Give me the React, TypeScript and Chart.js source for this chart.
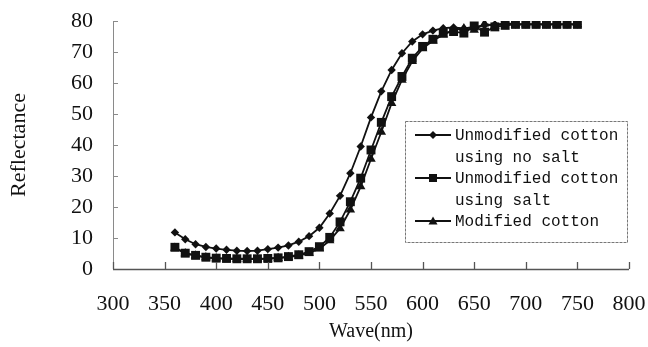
import React, { useEffect, useRef } from "react";
import { Chart, registerables } from "chart.js";

Chart.register(...registerables);

const wavelengths = [360, 370, 380, 390, 400, 410, 420, 430, 440, 450, 460, 470, 480, 490, 500, 510, 520, 530, 540, 550, 560, 570, 580, 590, 600, 610, 620, 630, 640, 650, 660, 670, 680, 690, 700, 710, 720, 730, 740, 750];

const unmodifiedNoSalt = [11.8, 9.6, 8.0, 7.1, 6.6, 6.2, 5.9, 5.8, 5.9, 6.4, 6.9, 7.6, 8.8, 10.6, 13.3, 17.9, 23.6, 30.9, 39.5, 48.9, 57.3, 64.2, 69.6, 73.4, 75.7, 76.9, 77.7, 77.9, 77.6, 78.1, 78.6, 78.9, 79.1, 78.9, 78.9, 78.9, 78.9, 78.9, 78.9, 78.9];

const unmodifiedSalt = [7.0, 5.1, 4.4, 3.8, 3.5, 3.4, 3.3, 3.3, 3.3, 3.4, 3.6, 4.0, 4.6, 5.6, 7.2, 10.2, 15.2, 21.7, 29.3, 38.4, 47.3, 55.6, 62.1, 68.0, 71.8, 74.1, 76.1, 76.6, 76.1, 78.4, 76.4, 78.1, 78.6, 78.9, 78.9, 78.9, 78.9, 78.9, 78.9, 78.9];

const modifiedCotton = [6.8, 5.0, 4.3, 3.7, 3.4, 3.3, 3.2, 3.2, 3.2, 3.3, 3.5, 3.8, 4.3, 5.2, 6.5, 9.2, 13.1, 19.1, 26.6, 35.5, 44.2, 53.5, 61.0, 67.0, 71.1, 73.6, 75.6, 77.1, 77.6, 77.1, 79.1, 78.4, 79.4, 78.9, 78.9, 78.9, 78.9, 78.9, 78.9, 78.9];

const seriesNames = [["Unmodified cotton", "using no salt"], ["Unmodified cotton", "using salt"], ["Modified cotton"]];
const xTitle = "Wave(nm)";
const yTitle = "Reflectance";

const INK = "#111111";
const SERIF = "'Liberation Serif', 'Times New Roman', serif";

const toPoints = (vals: number[]) => wavelengths.map((w, i) => ({ x: w, y: vals[i] }));

const axisPlugin = {
  id: "insideTicks",
  afterDraw(chart: any) {
    const ctx = chart.ctx;
    const xs = chart.scales.x;
    const ys = chart.scales.y;
    const area = chart.chartArea;
    ctx.save();
    ctx.strokeStyle = "#8a8a8a";
    ctx.lineWidth = 1;
    ctx.beginPath();
    ctx.moveTo(area.left + 0.5, area.top);
    ctx.lineTo(area.left + 0.5, area.bottom);
    ys.ticks.forEach((t: any) => {
      const py = Math.round(ys.getPixelForValue(t.value)) + 0.5;
      ctx.moveTo(area.left, py);
      ctx.lineTo(area.left + 5, py);
    });
    ctx.stroke();
    ctx.strokeStyle = "#555555";
    ctx.lineWidth = 1.3;
    ctx.beginPath();
    ctx.moveTo(area.left, area.bottom + 0.5);
    ctx.lineTo(area.right, area.bottom + 0.5);
    xs.ticks.forEach((t: any) => {
      const px = Math.round(xs.getPixelForValue(t.value)) + 0.5;
      ctx.moveTo(px, area.bottom);
      ctx.lineTo(px, area.bottom - 7);
    });
    ctx.stroke();
    ctx.restore();
  },
};

const legendPlugin = {
  id: "customLegend",
  afterDraw(chart: any) {
    const ctx = chart.ctx;
    const left = 405;
    const top = 121;
    const w = 222;
    const h = 121;
    ctx.save();
    ctx.fillStyle = "#ffffff";
    ctx.fillRect(left, top, w, h);
    ctx.strokeStyle = "#777777";
    ctx.lineWidth = 1;
    ctx.setLineDash([3, 1]);
    ctx.strokeRect(left + 0.5, top + 0.5, w, h);
    ctx.setLineDash([]);
    ctx.font = "16px 'Liberation Mono', 'DejaVu Sans Mono', monospace";
    ctx.fillStyle = INK;
    ctx.textBaseline = "middle";
    const lineH = 21.5;
    let row = 0;
    chart.data.datasets.forEach((ds: any, i: number) => {
      const lines = seriesNames[i];
      const cy = top + 14 + row * lineH;
      ctx.strokeStyle = INK;
      ctx.lineWidth = 2;
      ctx.beginPath();
      ctx.moveTo(415, cy);
      ctx.lineTo(451, cy);
      ctx.stroke();
      ctx.beginPath();
      const ps = ds.pointStyle;
      if (ps === "rectRot") {
        ctx.moveTo(433, cy - 4);
        ctx.lineTo(437, cy);
        ctx.lineTo(433, cy + 4);
        ctx.lineTo(429, cy);
      } else if (ps === "rect") {
        ctx.rect(429, cy - 4, 8, 8);
      } else {
        ctx.moveTo(433, cy - 4.5);
        ctx.lineTo(437.5, cy + 3.5);
        ctx.lineTo(428.5, cy + 3.5);
      }
      ctx.closePath();
      ctx.fill();
      lines.forEach((ln: string, k: number) => {
        ctx.fillText(ln, 455, cy + 1 + k * lineH);
      });
      row += lines.length;
    });
    ctx.restore();
  },
};

const noPad = (scale: any) => {
  scale.paddingLeft = 0;
  scale.paddingRight = 0;
  scale.paddingTop = 0;
  scale.paddingBottom = 0;
};

export default function App() {
  const ref = useRef<HTMLCanvasElement | null>(null);
  useEffect(() => {
    document.body.style.margin = "0";
    if (!ref.current) return;
    const mk = (label: string, vals: number[], style: string, r: number) => ({
      label,
      data: toPoints(vals),
      borderColor: INK,
      backgroundColor: INK,
      borderWidth: 1.8,
      pointStyle: style,
      pointRadius: r,
      pointBorderWidth: 0,
      tension: 0,
    });
    const chart = new Chart(ref.current, {
      type: "line",
      data: {
        datasets: [
          mk(seriesNames[0].join(" "), unmodifiedNoSalt, "rectRot", 4.2),
          mk(seriesNames[1].join(" "), unmodifiedSalt, "rect", 6.3),
          mk(seriesNames[2][0], modifiedCotton, "triangle", 5.5),
        ],
      },
      options: {
        animation: false,
        responsive: false,
        layout: { padding: { left: 0, right: 19, top: 21, bottom: 0 } },
        plugins: { legend: { display: false }, tooltip: { enabled: false } },
        scales: {
          x: {
            type: "linear",
            min: 300,
            max: 800,
            border: { display: false },
            grid: { display: false, drawTicks: false },
            ticks: {
              stepSize: 50,
              padding: 22,
              color: INK,
              font: { family: SERIF, size: 22 },
            },
            title: {
              display: true,
              text: xTitle,
              color: INK,
              padding: { top: 0, bottom: 3 },
              font: { family: SERIF, size: 20 },
            },
            afterFit(scale: any) {
              scale.height = 78;
              noPad(scale);
            },
          },
          y: {
            min: 0,
            max: 80,
            border: { display: false },
            grid: { display: false, drawTicks: false },
            ticks: {
              stepSize: 10,
              padding: 20,
              color: INK,
              font: { family: SERIF, size: 22 },
            },
            title: {
              display: true,
              text: yTitle,
              color: INK,
              padding: { top: 6, bottom: 0 },
              font: { family: SERIF, size: 22 },
            },
            afterFit(scale: any) {
              scale.width = 113;
              noPad(scale);
            },
          },
        },
      },
      plugins: [axisPlugin, legendPlugin],
    } as any);
    return () => chart.destroy();
  }, []);
  return (
    <div style={{ width: 648, height: 347 }}>
      <canvas ref={ref} width={648} height={347} style={{ display: "block" }} />
    </div>
  );
}
